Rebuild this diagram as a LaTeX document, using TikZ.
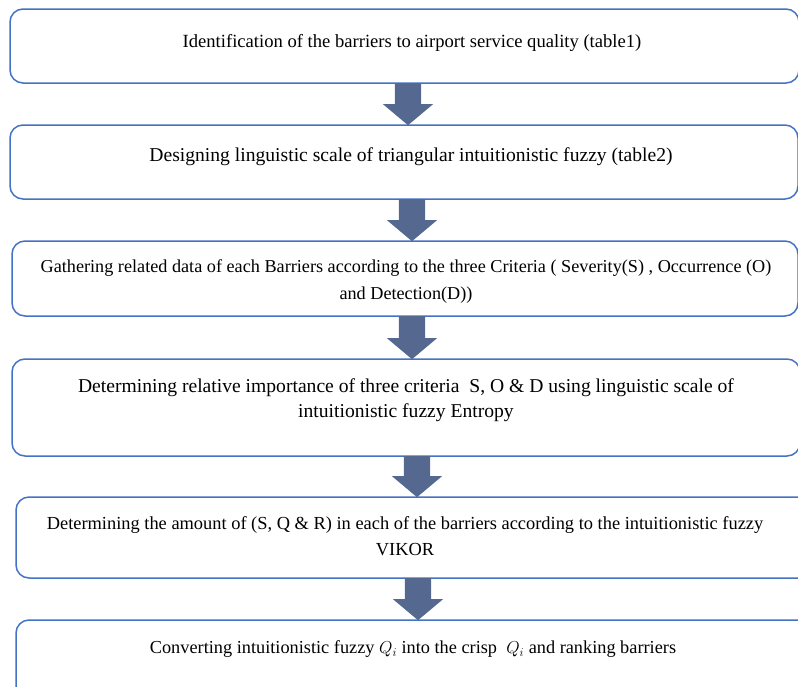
\documentclass[tikz,border=0pt]{standalone}
\usepackage{fontspec}
\setmainfont{Liberation Serif}
\usetikzlibrary{shapes.arrows}
\definecolor{boxblue}{RGB}{68,114,196}
\definecolor{arrowslate}{RGB}{84,104,144}

\begin{document}
\begin{tikzpicture}[x=1pt, y=1pt,
	stepbox/.style={draw=boxblue, line width=1.5pt, rounded corners=13pt},
	downarrow/.style={single arrow, fill=arrowslate, draw=none, inner sep=0pt, minimum width=1pt,
		minimum height=42pt, single arrow head extend=12pt, single arrow tip angle=100,
		rotate=-90, anchor=tail},
	steptext/.style={align=center, inner sep=0pt}]
	\useasboundingbox (0,0) rectangle (798,-686);
	\clip (0,0) rectangle (798,-686);
	\draw[stepbox] (10,-9) rectangle (799,-83);
	\draw[stepbox] (10,-125) rectangle (798,-199);
	\draw[stepbox] (12,-241) rectangle (798,-316);
	\draw[stepbox] (12,-359) rectangle (800,-456);
	\draw[stepbox] (16,-497) rectangle (812,-578);
	\draw[stepbox] (16,-620) rectangle (812,-700);
	\node[steptext, font=\fontsize{18.6}{22}\selectfont] (t1) at (412,-43) {Identification of the barriers to airport service quality (table1)};
	\node[steptext, font=\fontsize{19.6}{23}\selectfont] (t2) at (411,-157) {Designing linguistic scale of triangular intuitionistic fuzzy (table2)};
	\node[steptext, font=\fontsize{18.2}{27}\selectfont] (t3) at (406,-282) {Gathering related data of each Barriers according to the three Criteria ( Severity(S) , Occurrence (O)\\and Detection(D))};
	\node[steptext, font=\fontsize{19.6}{25}\selectfont] (t4) at (406,-400.5) {Determining relative importance of three criteria~ S, O \& D using linguistic scale of\\intuitionistic fuzzy Entropy};
	\node[steptext, font=\fontsize{18.4}{26}\selectfont] (t5) at (405,-536) {Determining the amount of (S, Q \& R) in each of the barriers according to the intuitionistic fuzzy\\VIKOR};
	\node[steptext, font=\fontsize{18.3}{22}\selectfont] (t6) at (413,-649) {Converting intuitionistic fuzzy $Q_i$ into the crisp~ $Q_i$ and ranking barriers};
	\node[downarrow] (a1) at (408,-83) {\rule{0pt}{26pt}};
	\node[downarrow] (a2) at (412,-199) {\rule{0pt}{26pt}};
	\node[downarrow, minimum height=43pt] (a3) at (412,-316) {\rule{0pt}{26pt}};
	\node[downarrow, minimum height=41pt] (a4) at (417,-456) {\rule{0pt}{26pt}};
	\node[downarrow] (a5) at (418,-578) {\rule{0pt}{26pt}};
\end{tikzpicture}
\end{document}
